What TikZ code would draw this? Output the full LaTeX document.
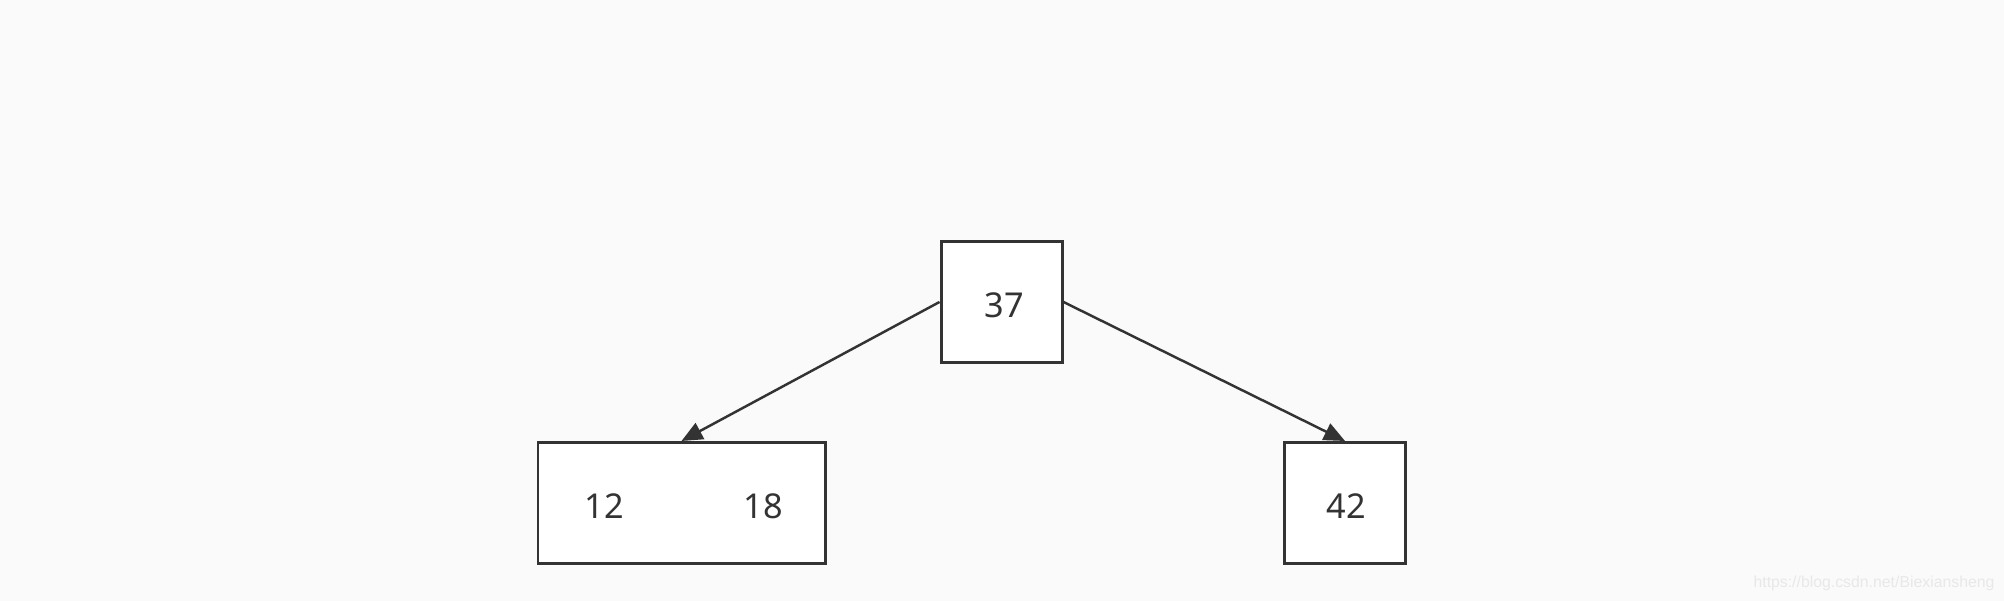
\documentclass[tikz,border=0pt]{standalone}
\usepackage{fontspec}
\setmainfont{Noto Sans}
\newfontfamily\markfont{Liberation Sans}
\usetikzlibrary{arrows.meta, positioning}
\definecolor{bgcolor}{RGB}{250,250,250}
\definecolor{linecolor}{RGB}{51,51,51}
\definecolor{markcolor}{RGB}{232,232,232}

\begin{document}
\begin{tikzpicture}[
    keybox/.style={draw=linecolor, line width=1.7pt, fill=white, inner sep=0pt, minimum height=2.42cm},
    keytext/.style={text=linecolor, font=\fontsize{19.5}{24}\selectfont, inner sep=0pt},
    edge/.style={draw=linecolor, line width=1.4pt, -{Triangle[length=0.42cm, width=0.36cm]}}
]
    \useasboundingbox[fill=bgcolor] (0,0) rectangle (40.08,12.02);

    % Root
    \node[keybox, minimum width=2.42cm] (n37) at (20.03,5.98) {};
    \node[keytext] (k37) at (20.08,5.92) {37};

    % Children
    \node[keybox, minimum width=5.74cm] (n1218) at (13.63,1.96) {};
    \node[keytext] (k12) at (12.08,1.89) {12};
    \node[keytext] (k18) at (15.26,1.89) {18};
    \node[keybox, minimum width=2.42cm] (n42) at (26.90,1.96) {};
    \node[keytext] (k42) at (26.92,1.89) {42};

    % Edges
    \draw[edge] (n37.west) -- (n1218.north);
    \draw[edge] (n37.east) -- (n42.north);

    \node[font=\markfont\fontsize{9}{11}\selectfont, text=markcolor, inner sep=0pt] (mark) at (37.48,0.36) {https://blog.csdn.net/Biexiansheng};
\end{tikzpicture}
\end{document}
